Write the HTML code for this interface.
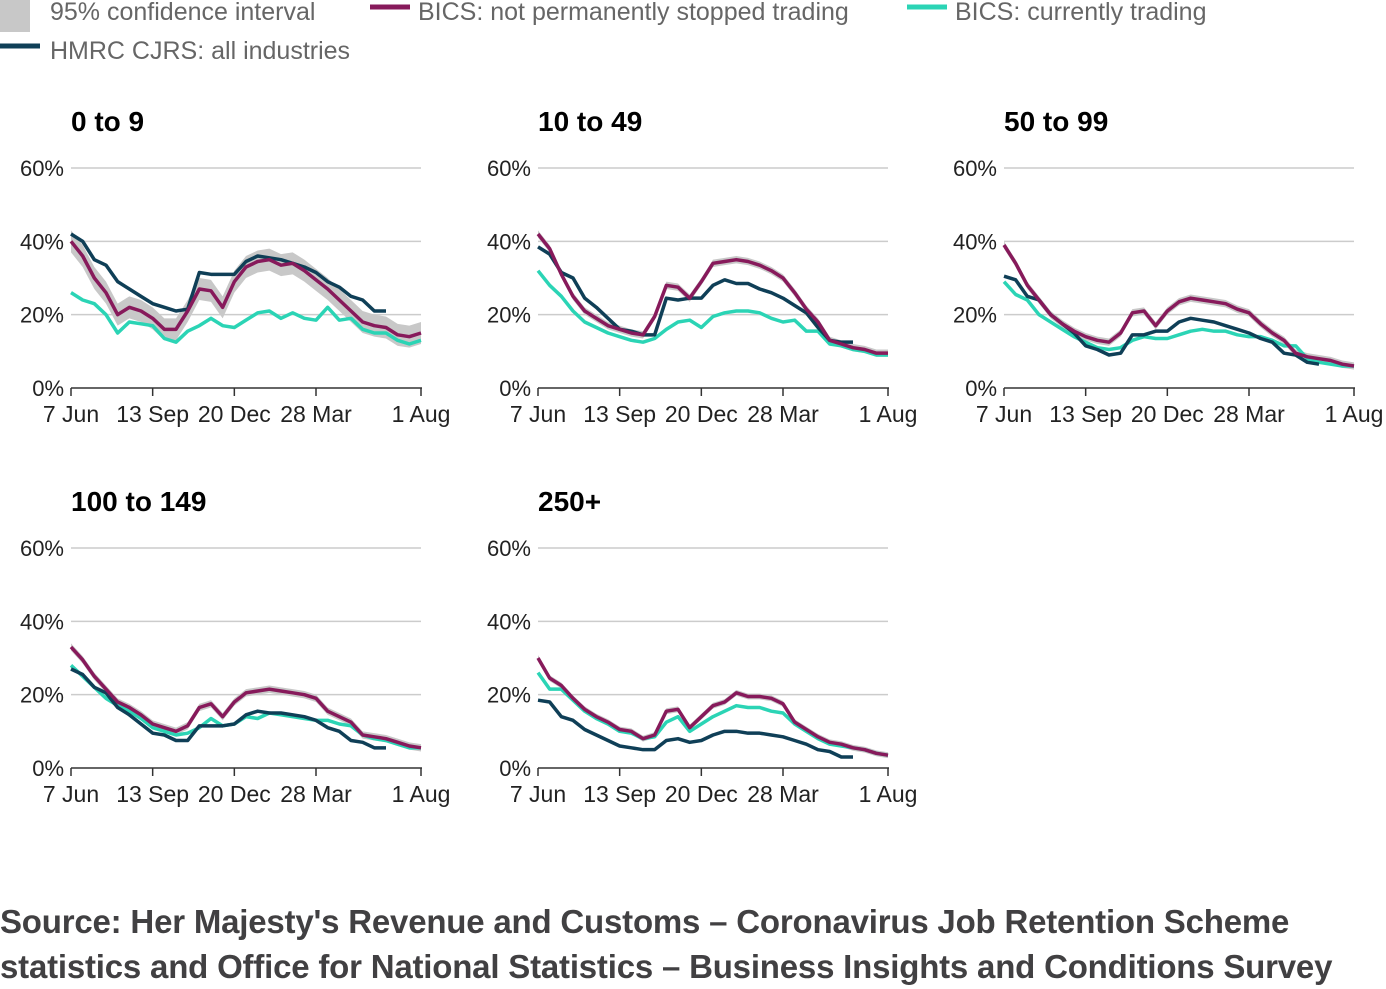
<!DOCTYPE html>
<html><head><meta charset="utf-8"><style>
body{margin:0;background:#fff;width:1386px;height:987px;overflow:hidden;font-family:"Liberation Sans",sans-serif}
svg{position:absolute;left:0;top:0}
.src{position:absolute;left:0;top:899px;font-weight:bold;font-size:33px;color:#414042;line-height:45px;letter-spacing:-0.2px;white-space:nowrap}
</style></head><body>
<svg id="chart" width="1386" height="987" xmlns="http://www.w3.org/2000/svg"></svg>
<div class="src">Source: Her Majesty's Revenue and Customs – Coronavirus Job Retention Scheme<br>statistics and Office for National Statistics – Business Insights and Conditions Survey</div>
<script>
const panelTitles=["0 to 9","10 to 49","50 to 99","100 to 149","250+"];
const yTicks=[0,20,40,60];
const yTickLabels=["0%","20%","40%","60%"];
const xTickWeeks=[0,14,28,42,60];
const xTickLabels=["7 Jun","13 Sep","20 Dec","28 Mar","1 Aug"];
const weekStep=2;
const bicsNotStopped=[
[40,36,30,26,20,22,21,19,16,16,21,27,26.5,22,29,33,34.5,35,33.5,34,32,29.5,27,24,21,18,17,16.5,14.5,14,15],
[42,38,31,25,21,19,17,16,15,14.5,19.5,28,27.5,24.5,29,34,34.5,35,34.5,33.5,32,30,26,21.5,18,13,12,11,10.5,9.5,9.5],
[39,34,28,24,20,17.5,15.5,14,13,12.5,15,20.5,21,17,21,23.5,24.5,24,23.5,23,21.5,20.5,17.5,15,13,9.5,8.5,8,7.5,6.5,6],
[33,29.5,25,21.5,18,16.5,14.5,12,11,10,11.5,16.5,17.5,14,18,20.5,21,21.5,21,20.5,20,19,15.5,14,12.5,9,8.5,8,7,6,5.5],
[30,24.5,22.5,19,16,14,12.5,10.5,10,8,9,15.5,16,11,14,17,18,20.5,19.5,19.5,19,17.5,12.5,10.5,8.5,7,6.5,5.5,5,4,3.5]];
const ciHalfWidth=[3,1,1,1,0.8];
const bicsTrading=[
[26,24,23,20,15,18,17.5,17,13.5,12.5,15.5,17,19,17,16.5,18.5,20.5,21,19,20.5,19,18.5,22,18.5,19,16,15,15,13,12,13],
[32,28,25,21,18,16.5,15,14,13,12.5,13.5,16,18,18.5,16.5,19.5,20.5,21,21,20.5,19,18,18.5,15.5,15.5,12,11.5,10.5,10,9,9],
[29,25.5,24,20,18,16,14,12.5,11,10.5,11,13,14,13.5,13.5,14.5,15.5,16,15.5,15.5,14.5,14,14,13,11.5,11.5,8,7,6.5,6,6],
[28,25,22,19,17,15.5,13.5,11,10,9,9.5,11,13.5,11.5,12,14,13.5,15,14.5,14,13.5,13,13,12,11.5,9,8,7.5,6.5,5.5,5.5],
[26,21.5,21.5,18.5,15.5,13.5,12,10,9.5,8,8.5,12.5,14,10,12,14,15.5,17,16.5,16.5,15.5,15,12,10,8,6.5,6,5.5,5,4,3.5]];
const hmrc=[
[42,40,35,33.5,29,27,25,23,22,21,21.5,31.5,31,31,31,34.5,36,35.5,35,34,33,31.5,29,27.5,25,24,21,21],
[38.5,36.5,31.5,30,24.5,22,19,16,15.5,14.5,14.5,24.5,24,24.5,24.5,28,29.5,28.5,28.5,27,26,24.5,22.5,20.5,16.5,13,12.5,12.5],
[30.5,29.5,25,24,20,17.5,15,11.5,10.5,9,9.5,14.5,14.5,15.5,15.5,18,19,18.5,18,17,16,15,13.5,12.5,9.5,9,7,6.5],
[27,25.5,22,20.5,16.5,14.5,12,9.5,9,7.5,7.5,11.5,11.5,11.5,12,14.5,15.5,15,15,14.5,14,13,11,10,7.5,7,5.5,5.5],
[18.5,18,14,13,10.5,9,7.5,6,5.5,5,5,7.5,8,7,7.5,9,10,10,9.5,9.5,9,8.5,7.5,6.5,5,4.5,3,3]];

const svg=document.getElementById('chart');
const NS='http://www.w3.org/2000/svg';
function mk(tag,at,parent){const e=document.createElementNS(NS,tag);for(const k in at)e.setAttribute(k,at[k]);(parent||svg).appendChild(e);return e;}
const C={ci:'#c8c8c8',pur:'#871a5b',cy:'#2bd4b5',dk:'#0f3f57',grid:'#cccccc',txt:'#666666'};

const lg=mk('g',{});

const legendItems=[
 {x:0,y:0,type:'sq',c:C.ci,t:'95% confidence interval',tx:50,ty:20,n:'legend-ci'},
 {x:370,y:7,type:'ln',c:C.pur,t:'BICS: not permanently stopped trading',tx:418,ty:20,n:'legend-bics-not-stopped'},
 {x:907,y:7,type:'ln',c:C.cy,t:'BICS: currently trading',tx:955,ty:20,n:'legend-bics-trading'},
 {x:0,y:46,type:'ln',c:C.dk,t:'HMRC CJRS: all industries',tx:50,ty:59,n:'legend-hmrc'}];
legendItems.forEach(it=>{
 const g=mk('g',{},lg);
 
 
 if(it.type==='sq')mk('rect',{x:0,y:0,width:30,height:32,fill:it.c},g);
 else mk('rect',{x:it.x,y:it.y-2.5,width:40,height:5,fill:it.c},g);
 const t=mk('text',{x:it.tx,y:it.ty,'font-size':25,fill:C.txt},g);t.textContent=it.t;
});

const panels=[{x:71,y:388},{x:538,y:388},{x:1004,y:388},{x:71,y:768},{x:538,y:768}];
const W=350,H=220,ymax=60,wmax=60;
panels.forEach((p,i)=>{
 const g=mk('g',{});
 
 
 const X=w=>p.x+w/wmax*W, Y=v=>p.y-v/ymax*H;
 const tt=mk('text',{x:p.x,y:p.y-257,'font-size':28,'font-weight':'bold',fill:'#000'},g);tt.textContent=panelTitles[i];
 
 yTicks.forEach((v,k)=>{
  if(v>0)mk('line',{x1:p.x,x2:p.x+W,y1:Y(v),y2:Y(v),stroke:C.grid,'stroke-width':1.5},g);
  const t=mk('text',{x:p.x-7,y:Y(v)+8,'font-size':22,'text-anchor':'end',fill:'#222'},g);t.textContent=yTickLabels[k];
  
 });
 const pv=bicsNotStopped[i],hw=ciHalfWidth[i];
 let d='';pv.forEach((v,k)=>{d+=(k?'L':'M')+X(k*weekStep)+','+Y(v+hw);});
 for(let k=pv.length-1;k>=0;k--)d+='L'+X(k*weekStep)+','+Y(Math.max(0,pv[k]-hw));
 const band=mk('path',{d:d+'Z',fill:C.ci},g);
 
 const line=(arr,c,n)=>{const pts=arr.map((v,k)=>X(k*weekStep)+','+Y(v)).join(' ');
  const l=mk('polyline',{points:pts,fill:'none',stroke:c,'stroke-width':3.5,'stroke-linejoin':'round'},g);
  };
 line(bicsTrading[i],C.cy,'line-bics-trading');
 line(hmrc[i],C.dk,'line-hmrc');
 line(bicsNotStopped[i],C.pur,'line-bics-not-stopped');
 mk('line',{x1:p.x,x2:p.x+W+1,y1:p.y,y2:p.y,stroke:'#333','stroke-width':1.5},g);
 xTickWeeks.forEach((w,k)=>{
  mk('line',{x1:X(w),x2:X(w),y1:p.y,y2:p.y+8,stroke:'#333','stroke-width':1.5},g);
  const t=mk('text',{x:X(w),y:p.y+34,'font-size':23,'text-anchor':'middle',fill:'#222'},g);t.textContent=xTickLabels[k];
  
 });
});
</script>
</body></html>
